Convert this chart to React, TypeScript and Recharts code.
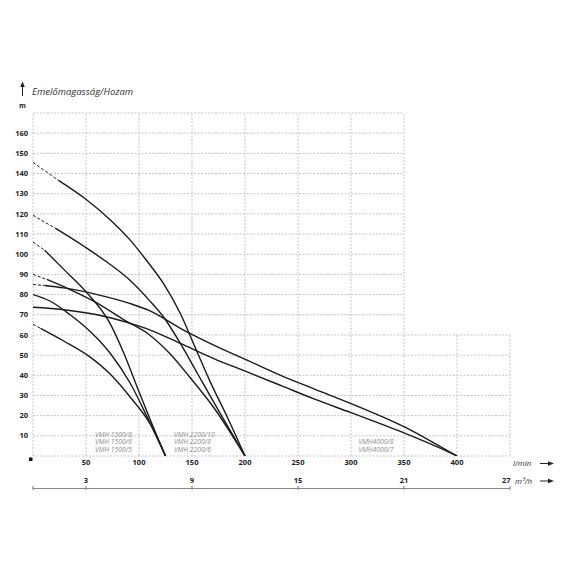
import { Line, LineChart, ReferenceLine, XAxis, YAxis } from 'recharts'

// head (m) vs flow (l/min); dashed part runs from 0 to dashTo
const vmh1500_8 = [[0, 106], [11, 102], [30, 92], [49.5, 81.7], [71.6, 66.7], [85.8, 50.8], [98.4, 34], [111, 17.5], [125, 0]]
const vmh1500_6 = [[0, 80], [16.4, 76.7], [35, 70], [54, 61.7], [73, 50.8], [92, 35.8], [108, 19], [125, 0]]
const vmh1500_5 = [[0, 65.3], [7, 63.3], [29, 57], [54, 49], [73, 40.5], [92, 29], [111, 15.5], [125, 0]]
const vmh2200_10 = [[0, 145.5], [24, 136.6], [49, 127.6], [75, 116], [91.7, 107], [107, 97], [123, 85.5], [139, 70.6], [152, 55], [167, 37], [184, 18.5], [200, 0]]
const vmh2200_8 = [[0, 119.3], [21, 112.9], [49, 103.6], [70, 96], [91.7, 87], [110, 77], [123, 69], [139, 55.8], [155, 41], [176.7, 21], [200, 0]]
const vmh2200_6 = [[0, 90], [13, 87.5], [35, 82.5], [60.6, 75.8], [85.8, 67.5], [110, 60], [129, 50.8], [148, 39], [170, 24.4], [200, 0]]
const vmh4000_8 = [[0, 85], [11, 84.5], [29, 83.3], [60.6, 80], [92, 75.5], [110, 72], [139, 63.3], [170.5, 55], [202, 47.5], [233.6, 40], [265, 33.3], [300, 26], [350, 14.5], [381.5, 5.5], [400, 0]]
const vmh4000_7 = [[0, 73.7], [29, 72.5], [60.6, 70], [92, 65.7], [110.6, 62.4], [139, 55.8], [170.5, 48.3], [202, 41.7], [233.6, 35], [265, 28.3], [300, 21.5], [350, 11.5], [381.5, 4.5], [400, 0]]

const curves = [
  { name: 'VMH 1500/8', pts: vmh1500_8, dashTo: 11, axis: 'lmin' },
  { name: 'VMH 1500/6', pts: vmh1500_6, dashTo: 0, axis: 'lmin' },
  { name: 'VMH 1500/5', pts: vmh1500_5, dashTo: 7, axis: 'lmin' },
  { name: 'VMH 2200/10', pts: vmh2200_10, dashTo: 24, axis: 'lmin' },
  { name: 'VMH 2200/8', pts: vmh2200_8, dashTo: 21, axis: 'lmin' },
  { name: 'VMH 2200/6', pts: vmh2200_6, dashTo: 13, axis: 'lmin' },
  { name: 'VMH4000/8', pts: vmh4000_8, dashTo: 11, axis: 'm3' },
  { name: 'VMH4000/7', pts: vmh4000_7, dashTo: 0, axis: 'm3' },
]

const headTicks = [10, 20, 30, 40, 50, 60, 70, 80, 90, 100, 110, 120, 130, 140, 150, 160]
const flowTicks = [50, 100, 150, 200, 250, 300, 350, 400]
const m3hTicks = [3, 9, 15, 21, 27]
const gridRows = [0, 10, 20, 30, 40, 50, 60, 70, 80, 90, 100, 110, 120, 130, 140, 150, 160, 170]
const gridCols = [0, 50, 100, 150, 200, 250, 300, 350, 400, 450]

const labels1500 = ['VMH 1500/8', 'VMH 1500/6', 'VMH 1500/5']
const labels2200 = ['VMH 2200/10', 'VMH 2200/8', 'VMH 2200/6']
const labels4000 = ['VMH4000/8', 'VMH4000/7']

const font = '"Open Sans", sans-serif'
const gridStyle = { stroke: '#c4c4c4', strokeDasharray: '2 1.5', strokeWidth: 1 }
const tickStyle = { fontSize: 7.5, fontWeight: 700, fill: '#222', fontFamily: font }
const noteStyle = { fontSize: 6.8, fontStyle: 'italic', fill: '#8c8c8c', fontFamily: font }
const unitStyle = { fontSize: 8, fontStyle: 'italic', fill: '#333', fontFamily: font }

const toRows = (pts: number[][]) => pts.map(([q, h]) => ({ q, h }))
const lminToM3h = (q: number) => Math.round(q * 0.06)

function M3hTick(p: any) {
  const v = p.payload.value
  const last = lminToM3h(v) === m3hTicks[m3hTicks.length - 1]
  return <g>
    <line x1={p.x} x2={p.x} y1={p.y - 2} y2={p.y + 2} stroke="#777" />
    {v !== 0 && <text x={last ? p.x + 0.5 : p.x} y={p.y - 5} textAnchor={last ? 'end' : 'middle'} style={tickStyle}>{lminToM3h(v)}</text>}
  </g>
}

export default function App() {
  return <div style={{ position: 'absolute', left: 0, top: 0, width: 570, height: 570, background: '#fff' }}>
    <LineChart width={570} height={570} margin={{ top: 113, right: 60, left: 0, bottom: 62 }}>
      <XAxis xAxisId="lmin" type="number" dataKey="q" domain={[0, 450]} ticks={flowTicks} allowDataOverflow axisLine={false} tickLine={false} tickSize={0} tickMargin={4} height={32} tick={tickStyle} />
      <XAxis xAxisId="m3" type="number" dataKey="q" domain={[0, 450]} ticks={[0, ...m3hTicks.map(v => v / 0.06)]} allowDataOverflow axisLine={false} tickLine={false} tickSize={0} tickMargin={0} height={20} tick={M3hTick} />
      <YAxis type="number" domain={[0, 170]} ticks={headTicks} allowDataOverflow axisLine={false} tickLine={false} tickSize={0} tickMargin={5} width={33} tick={tickStyle} />
      {gridRows.map(v => <ReferenceLine key={'r' + v} xAxisId="lmin" segment={[{ x: 0, y: v }, { x: v > 60 ? 350 : 450, y: v }]} {...gridStyle} ifOverflow="visible" />)}
      {gridCols.map(v => <ReferenceLine key={'c' + v} xAxisId="lmin" segment={[{ x: v, y: 0 }, { x: v, y: v > 350 ? 60 : 170 }]} {...gridStyle} ifOverflow="visible" />)}
      {curves.flatMap(c => {
        const rows = toRows(c.pts)
        const out = [<Line key={c.name} xAxisId={c.axis} data={rows.filter(r => r.q >= c.dashTo)} dataKey="h" type="monotone" stroke="#1b1b1b" strokeWidth={1.4} dot={false} activeDot={false} isAnimationActive={false} />]
        if (c.dashTo > 0) out.push(<Line key={c.name + '-d'} xAxisId={c.axis} data={rows.filter(r => r.q <= c.dashTo)} dataKey="h" type="linear" stroke="#1b1b1b" strokeWidth={1} strokeDasharray="3 2" dot={false} activeDot={false} isAnimationActive={false} />)
        return out
      })}
    </LineChart>
    <svg width={570} height={570} style={{ position: 'absolute', left: 0, top: 0, pointerEvents: 'none' }}>
      <line x1={22.5} x2={22.5} y1={86} y2={96} stroke="#222" strokeWidth={1} />
      <path d="M20.2 87 L22.5 81.5 L24.8 87 Z" fill="#222" />
      <text x={32} y={94.5} style={{ fontSize: 9.5, fontStyle: 'italic', fill: '#333', fontFamily: font }}>Emelőmagasság/Hozam</text>
      <text x={22.5} y={108} textAnchor="middle" style={{ ...tickStyle, fontSize: 7 }}>m</text>
      <rect x={29} y={457.5} width={3.5} height={3.5} fill="#111" />
      <line x1={33} x2={510} y1={488.5} y2={488.5} stroke="#888" strokeWidth={1} />
      {labels1500.map((t, i) => <text key={t} x={95} y={436.5 + i * 7.5} style={noteStyle}>{t}</text>)}
      {labels2200.map((t, i) => <text key={t} x={174} y={436.5 + i * 7.5} style={noteStyle}>{t}</text>)}
      {labels4000.map((t, i) => <text key={t} x={376} y={444 + i * 7.5} textAnchor="middle" style={noteStyle}>{t}</text>)}
      <text x={513} y={466} style={unitStyle}>l/min</text>
      <text x={515} y={484} style={unitStyle}>m³/h</text>
      <line x1={540} x2={549} y1={463.5} y2={463.5} stroke="#222" />
      <path d="M548 461.2 L554 463.5 L548 465.8 Z" fill="#222" />
      <line x1={540} x2={549} y1={481} y2={481} stroke="#222" />
      <path d="M548 478.7 L554 481 L548 483.3 Z" fill="#222" />
    </svg>
  </div>
}
